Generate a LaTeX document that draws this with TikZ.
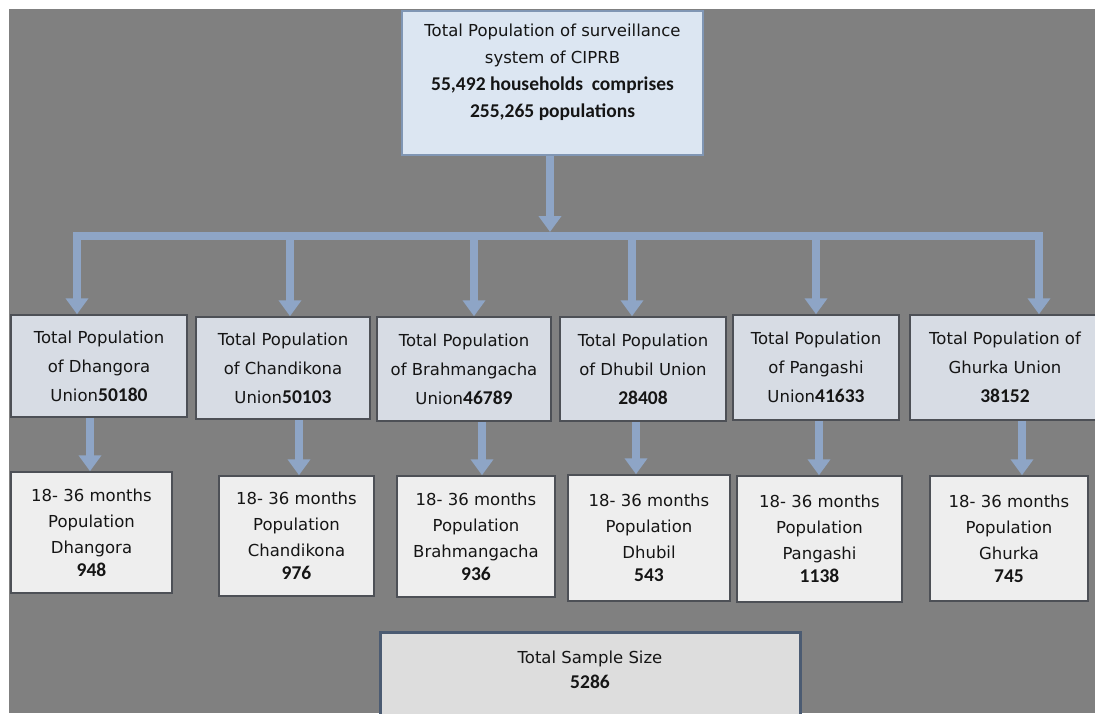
\documentclass[tikz,border=0pt]{standalone}
\usepackage{fontspec}
\setmainfont{DejaVu Sans}
\newfontfamily\numfont{Carlito}
\usetikzlibrary{arrows.meta}
\definecolor{bg}{HTML}{808080}
\definecolor{lonefill}{HTML}{D7DCE4}
\definecolor{ltwofill}{HTML}{EEEEEE}
\definecolor{topfill}{HTML}{DCE6F2}
\definecolor{topdraw}{HTML}{8096B4}
\definecolor{bdr}{HTML}{4D5056}
\definecolor{totfill}{HTML}{DDDDDD}
\definecolor{totdraw}{HTML}{4B5B72}
\definecolor{arr}{HTML}{8EA5C6}
\definecolor{ink}{HTML}{151515}
\newcommand{\bnum}[1]{{\numfont\bfseries\fontsize{19.5pt}{27pt}\selectfont #1}}
\tikzset{
  txt/.style={align=center, text=ink, font=\fontsize{16.5pt}{27pt}\selectfont, inner sep=0pt},
  lonebox/.style={txt, draw=bdr, line width=1.5pt, fill=lonefill, font=\fontsize{16.5pt}{29pt}\selectfont},
  ltwobox/.style={txt, draw=bdr, line width=1.5pt, fill=ltwofill, font=\fontsize{16.5pt}{26pt}\selectfont},
  topbox/.style={draw=topdraw, line width=2pt, fill=topfill, inner sep=0pt},
  totbox/.style={draw=totdraw, line width=3pt, fill=totfill, inner sep=0pt},
  conn/.style={draw=arr, line width=8pt},
  connarrow/.style={conn, -{Triangle[width=22pt,length=16pt]}},
}
\begin{document}
\begin{tikzpicture}[x=1pt,y=-1pt]
\useasboundingbox (0,0) rectangle (1095,713);
\clip (0,0) rectangle (1095,713);
\fill[white] (0,0) rectangle (1095,713);
\fill[bg] (9,9) rectangle (1095,713);

% top box
\node[topbox, minimum width=301pt, minimum height=144pt] (top) at (552.5,83) {};
\node[txt] (toptxt) at (552.5,72.5) {Total Population of surveillance\\system of CIPRB\\\bnum{55,492 households\ \ comprises}\\\bnum{255,265 populations}};

% level one
\node[lonebox, minimum width=176pt, minimum height=102pt] (b1) at (99,366) {Total Population\\of Dhangora\\Union\bnum{50180}};
\node[lonebox, minimum width=174pt, minimum height=102pt] (b2) at (283,368) {Total Population\\of Chandikona\\Union\bnum{50103}};
\node[lonebox, minimum width=174pt, minimum height=104pt] (b3) at (464,369) {Total Population\\of Brahmangacha\\Union\bnum{46789}};
\node[lonebox, minimum width=166pt, minimum height=104pt] (b4) at (643,369) {Total Population\\of Dhubil Union\\\bnum{28408}};
\node[lonebox, minimum width=166pt, minimum height=105pt] (b5) at (816,367.5) {Total Population\\of Pangashi\\Union\bnum{41633}};
\node[lonebox, minimum width=190pt, minimum height=105pt] (b6) at (1005,367.5) {Total Population of\\Ghurka Union\\\bnum{38152}};

% level two
\node[ltwobox, minimum width=161pt, minimum height=121pt] (c1) at (91.5,532.5) {18- 36 months\\Population\\Dhangora\\[-3pt]\bnum{948}};
\node[ltwobox, minimum width=155pt, minimum height=120pt] (c2) at (296.5,536) {18- 36 months\\Population\\Chandikona\\[-3pt]\bnum{976}};
\node[ltwobox, minimum width=158pt, minimum height=121pt] (c3) at (476,536.5) {18- 36 months\\Population\\Brahmangacha\\[-3pt]\bnum{936}};
\node[ltwobox, minimum width=162pt, minimum height=126pt] (c4) at (649,538) {18- 36 months\\Population\\Dhubil\\[-3pt]\bnum{543}};
\node[ltwobox, minimum width=165pt, minimum height=126pt] (c5) at (819.5,539) {18- 36 months\\Population\\Pangashi\\[-3pt]\bnum{1138}};
\node[ltwobox, minimum width=158pt, minimum height=125pt] (c6) at (1009,538.5) {18- 36 months\\Population\\Ghurka\\[-3pt]\bnum{745}};

% total
\node[totbox, minimum width=420pt, minimum height=98pt] (tot) at (590,681) {};
\node[txt] (tottxt) at (590,669.5) {Total Sample Size\\[-2pt]\bnum{5286}};

% connectors
\coordinate (j1) at (77,236);
\coordinate (j2) at (290,236);
\coordinate (j3) at (474,236);
\coordinate (j4) at (632,236);
\coordinate (j5) at (816,236);
\coordinate (j6) at (1039,236);
\coordinate (jtop) at (550,232);
\draw[conn, line cap=rect] (j1) -- (j6);
\draw[connarrow] (top.south -| jtop) -- (jtop);
\foreach \i in {1,...,6} {
  \draw[connarrow] (j\i) -- (j\i |- b\i.north);
}
\coordinate (d1) at (90,0);
\coordinate (d2) at (299,0);
\coordinate (d3) at (482,0);
\coordinate (d4) at (636,0);
\coordinate (d5) at (819,0);
\coordinate (d6) at (1022,0);
\foreach \i in {1,...,6} {
  \draw[connarrow] (b\i.south -| d\i) -- (c\i.north -| d\i);
}
\end{tikzpicture}
\end{document}
